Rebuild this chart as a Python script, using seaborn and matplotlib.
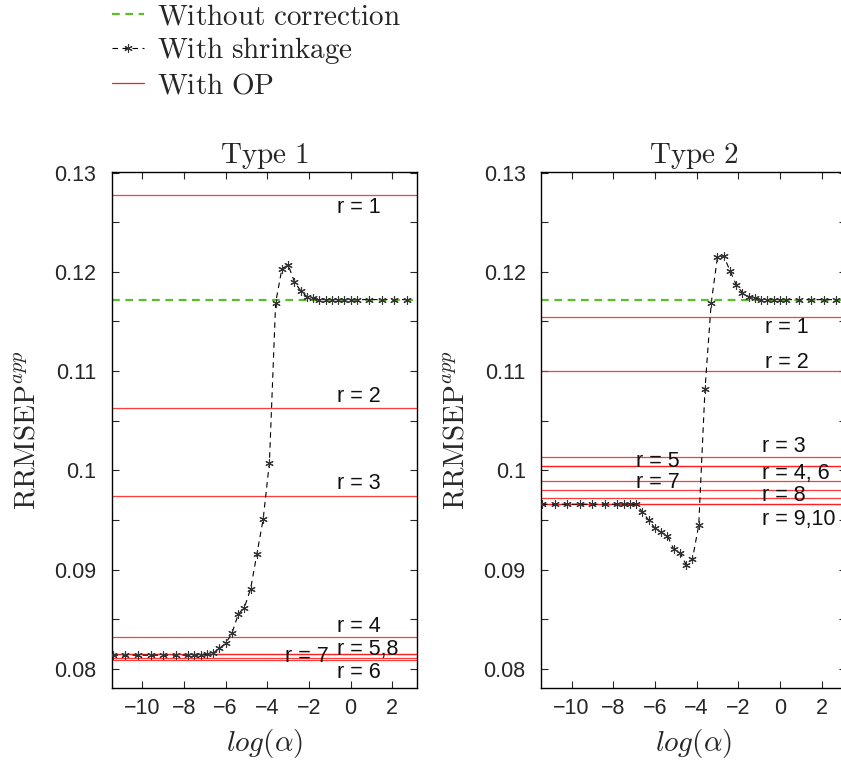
import numpy as np
import pandas as pd
import matplotlib
matplotlib.use("Agg")
import matplotlib.pyplot as plt
from matplotlib.ticker import FixedLocator, FormatStrFormatter
from matplotlib.lines import Line2D
import seaborn as sns

# ---------------- data ----------------
log_alpha = [-11.43, -10.82, -10.21, -9.60, -9.00, -8.40, -7.80,
             -7.50, -7.20, -6.90, -6.60, -6.30, -6.00, -5.70, -5.40, -5.10,
             -4.80, -4.50, -4.20, -3.90, -3.60, -3.30, -3.00, -2.70, -2.40,
             -2.10, -1.80, -1.50, -1.20, -0.90, -0.60, -0.30, 0.00, 0.30,
             0.90, 1.50, 2.10, 2.70]

shrink_type1 = [0.0814, 0.0814, 0.0814, 0.0814, 0.0814, 0.0814, 0.0814,
                0.0814, 0.0814, 0.0815, 0.0816, 0.0821, 0.0826, 0.0836, 0.0855, 0.0862,
                0.0881, 0.0916, 0.0951, 0.1008, 0.1169, 0.1203, 0.1207, 0.1190, 0.1181,
                0.1175, 0.1174, 0.1172, 0.1172, 0.1172, 0.1172, 0.1172, 0.1172, 0.1172,
                0.1172, 0.1172, 0.1172, 0.1172]

shrink_type2 = [0.0966, 0.0966, 0.0966, 0.0966, 0.0966, 0.0966, 0.0966,
                0.0966, 0.0966, 0.0966, 0.0958, 0.0950, 0.0942, 0.0938, 0.0934, 0.0921,
                0.0917, 0.0905, 0.0911, 0.0945, 0.1082, 0.1169, 0.1215, 0.1216, 0.1201,
                0.1187, 0.1179, 0.1175, 0.1174, 0.1172, 0.1172, 0.1172, 0.1172, 0.1172,
                0.1172, 0.1172, 0.1172, 0.1172]

no_correction = [0.1172, 0.1172]          # Type 1, Type 2

op_type1 = [0.1277, 0.1063, 0.0974, 0.0832, 0.0815, 0.0809, 0.0811, 0.0815]
op_type2 = [0.1155, 0.1100, 0.1014, 0.1004, 0.0989, 0.1004, 0.0980, 0.0972, 0.0966, 0.0966]

labels_type1 = ["r = 1", "r = 2", "r = 3", "r = 4", "r = 5,8", "r = 7", "r = 6"]
labels_type2 = ["r = 1", "r = 2", "r = 3", "r = 4, 6", "r = 5", "r = 7", "r = 8", "r = 9,10"]

panel_titles = ["Type 1", "Type 2"]
yticks = [0.08, 0.09, 0.10, 0.11, 0.12, 0.13]
xticks = [-10, -8, -6, -4, -2, 0, 2]

# label anchor positions (data coords)
lab_pos_type1 = [(-0.66, 0.1265), (-0.66, 0.1074), (-0.66, 0.0987), (-0.66, 0.0843),
                 (-0.66, 0.0820), (-3.15, 0.0813), (-0.66, 0.0797)]
lab_pos_type2 = [(-0.71, 0.1144), (-0.71, 0.1109), (-0.85, 0.1024), (-0.85, 0.0997),
                 (-6.90, 0.1009), (-6.90, 0.0988), (-0.85, 0.0975), (-0.85, 0.0951)]

# ---------------- style ----------------
sns.set_style("ticks")
plt.rcParams["font.family"] = ["Liberation Sans", "DejaVu Sans"]
plt.rcParams["mathtext.fontset"] = "cm"
plt.rcParams["axes.linewidth"] = 1.0

GREEN = "#5cbf2a"
RED = "#ff1a1a"
SERIF = 21
SANS = 15.5

fig = plt.figure(figsize=(8.41, 7.64), dpi=100)
ax1 = fig.add_axes([0.1328, 0.0995, 0.3627, 0.676])
ax2 = fig.add_axes([0.6433, 0.0995, 0.3627, 0.676])

asterisk = (6, 2, 0)

panels = [
    (ax1, shrink_type1, no_correction[0], op_type1, labels_type1, lab_pos_type1, panel_titles[0]),
    (ax2, shrink_type2, no_correction[1], op_type2, labels_type2, lab_pos_type2, panel_titles[1]),
]

for ax, shrink, nocorr, ops, labs, pos, title in panels:
    for v in ops:
        ax.axhline(v, color=RED, lw=0.9, alpha=0.85, zorder=1)
    ax.axhline(nocorr, color=GREEN, lw=1.6, ls=(0, (3.5, 2.5)), zorder=2)
    df = pd.DataFrame({"log_alpha": log_alpha, "rrmsep": shrink})
    sns.lineplot(data=df, x="log_alpha", y="rrmsep", ax=ax, color="black",
                 lw=0.8, linestyle=(0, (5, 4)), marker=asterisk, markersize=6,
                 markeredgewidth=0.8, markeredgecolor="#333333", zorder=3)
    for t, (xx, yy) in zip(labs, pos):
        ax.text(xx, yy, t, ha="left", va="center", fontsize=SANS, color="#111111")

    ax.set_xlim(-11.47, 3.17)
    ax.set_ylim(0.0781, 0.1301)
    ax.xaxis.set_major_locator(FixedLocator(xticks))
    ax.yaxis.set_major_locator(FixedLocator(yticks))
    ax.yaxis.set_minor_locator(FixedLocator([0.085, 0.095, 0.105, 0.115, 0.125]))
    ax.yaxis.set_major_formatter(FormatStrFormatter("%g"))
    ax.tick_params(axis="both", which="both", direction="in", top=True, right=True,
                   length=5, width=0.8, labelsize=SANS)
    ax.tick_params(axis="y", which="major", pad=11)
    ax.tick_params(axis="x", which="major", pad=7)
    for s in ax.spines.values():
        s.set_visible(True)
        s.set_color("black")
    ax.set_title(r"$\mathrm{" + title.replace(" ", r"\ ") + "}$", fontsize=SERIF, pad=6)
    ax.set_xlabel(r"$log(\alpha)$", fontsize=SERIF, labelpad=6)
    ax.set_ylabel(r"$\mathrm{RRMSEP}^{app}$", fontsize=SERIF, labelpad=10)

handles = [
    Line2D([], [], color=GREEN, lw=1.6, ls=(0, (3.5, 2.5))),
    Line2D([], [], color="black", lw=0.8, ls=(0, (5, 4)), marker=asterisk,
           markersize=6, markeredgewidth=0.8, markeredgecolor="#333333"),
    Line2D([], [], color=RED, lw=0.9),
]
leg_labels = [r"$\mathrm{Without\ correction}$", r"$\mathrm{With\ shrinkage}$",
              r"$\mathrm{With\ OP}$"]
fig.legend(handles, leg_labels, loc="upper left", bbox_to_anchor=(0.133, 0.997),
           frameon=False, fontsize=SERIF, handlelength=1.1, handletextpad=0.45,
           labelspacing=0.17, borderpad=0.0, borderaxespad=0.0, numpoints=1)

fig.savefig("out.png", dpi=100)
